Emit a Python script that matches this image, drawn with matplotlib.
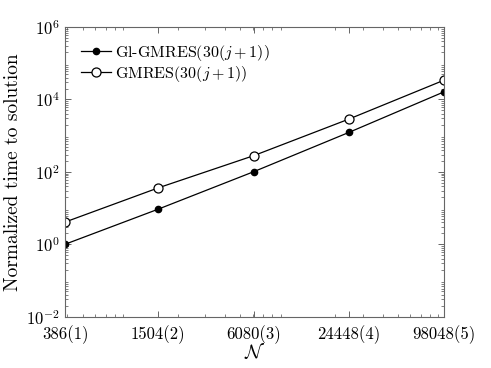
import numpy as np
import matplotlib
matplotlib.use("Agg")
import matplotlib.pyplot as plt
from matplotlib.ticker import LogLocator, NullFormatter

plt.rcParams['font.family'] = 'serif'
plt.rcParams['font.serif'] = ['cmr10']
plt.rcParams['mathtext.fontset'] = 'cm'
plt.rcParams['axes.formatter.use_mathtext'] = True

# problem sizes (level in brackets)
sizes = [386, 1504, 6080, 24448, 98048]
size_labels = ['386(1)', '1504(2)', '6080(3)', '24448(4)', '98048(5)']

# normalized time to solution
gl_gmres = [1.0, 9.3, 101, 1230, 16200]
gmres = [4.1, 36, 280, 2870, 34000]

fig = plt.figure(figsize=(4.91, 3.68), dpi=100)
ax = fig.add_axes([0.1324, 0.1394, 0.7719, 0.7872])

ax.plot(sizes, gl_gmres, color='k', linewidth=0.9, marker='o', markersize=4.5,
        markerfacecolor='k', markeredgecolor='k', label=r'Gl-GMRES$(30(j+1))$')
ax.plot(sizes, gmres, color='k', linewidth=0.9, marker='o', markersize=6.5,
        markerfacecolor='white', markeredgecolor='k', markeredgewidth=0.9,
        label=r'GMRES$(30(j+1))$')

ax.set_xscale('log')
ax.set_yscale('log')
ax.set_xlim(sizes[0], sizes[-1])
ax.set_ylim(1e-2, 1e6)

ax.set_xticks(sizes)
ax.set_xticklabels(size_labels)
ax.xaxis.set_minor_locator(LogLocator(base=10, subs=np.arange(2, 10)))
ax.xaxis.set_minor_formatter(NullFormatter())

yt = [1e-2, 1e0, 1e2, 1e4, 1e6]
ax.set_yticks(yt)
ax.set_yticklabels([r'$10^{-2}$', r'$10^{0}$', r'$10^{2}$', r'$10^{4}$', r'$10^{6}$'])
ax.yaxis.set_minor_locator(LogLocator(base=10, subs=np.arange(2, 10), numticks=20))
ax.yaxis.set_minor_formatter(NullFormatter())

ax.tick_params(which='both', direction='in', top=True, right=True,
               color='0.3', labelsize=12, labelcolor='k')
ax.tick_params(which='major', length=4, width=0.6)
ax.tick_params(which='minor', length=2, width=0.5)
ax.tick_params(axis='x', pad=6)
ax.tick_params(axis='y', pad=4)
for s in ax.spines.values():
    s.set_color('0.4')
    s.set_linewidth(0.8)

ax.set_xlabel(r'$\mathcal{N}$', fontsize=14, labelpad=-1)
ax.set_ylabel('Normalized time to solution', fontsize=14, labelpad=3)

ax.legend(loc='upper left', frameon=False, fontsize=11.5, handlelength=1.9,
          handletextpad=0.2, borderaxespad=0.6, labelspacing=0.05)

fig.savefig('out.png', dpi=100)
